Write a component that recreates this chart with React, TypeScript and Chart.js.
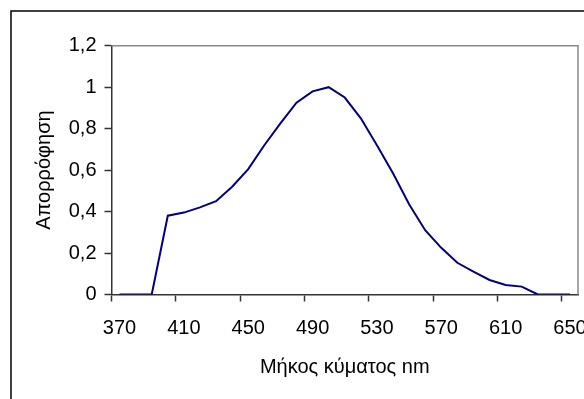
import React, { useEffect, useRef } from "react";
import { Chart, registerables } from "chart.js";

Chart.register(...registerables);

const wavelengths: number[] = [
  370, 380, 390, 400, 410, 420, 430, 440, 450, 460, 470, 480, 490, 500, 510,
  520, 530, 540, 550, 560, 570, 580, 590, 600, 610, 620, 630, 640, 650,
];
const absorbance: number[] = [
  0, 0, 0, 0.38, 0.395, 0.42, 0.45, 0.52, 0.605, 0.72, 0.825, 0.925, 0.98, 1.0,
  0.95, 0.85, 0.72, 0.585, 0.435, 0.31, 0.225, 0.153, 0.11, 0.07, 0.046, 0.038,
  0, 0, 0,
];
const xLabelStep = 4;
const yMin = 0;
const yMax = 1.2;
const yStep = 0.2;
const xTitle = "Μήκος κύματος nm";
const yTitle = "Απορρόφηση";

const FONT = "'Liberation Sans', Arial, sans-serif";
const FS = 20;

export default function App() {
  const ref = useRef<HTMLCanvasElement | null>(null);

  useEffect(() => {
    const canvas = ref.current;
    if (!canvas) return;

    const framePlugin = {
      id: "frame",
      beforeDraw(chart: any) {
        const { ctx } = chart;
        ctx.save();
        ctx.fillStyle = "#ffffff";
        ctx.fillRect(0, 0, chart.width, chart.height);
        ctx.strokeStyle = "#000000";
        ctx.lineWidth = 1.5;
        ctx.strokeRect(11, 11, chart.width + 20, chart.height + 20);
        ctx.restore();
      },
      beforeDatasetsDraw(chart: any) {
        const { ctx, chartArea: a } = chart;
        ctx.save();
        ctx.strokeStyle = "#8a8a8a";
        ctx.lineWidth = 1.5;
        ctx.beginPath();
        ctx.moveTo(a.left, a.top);
        ctx.lineTo(a.right, a.top);
        ctx.lineTo(a.right, a.bottom);
        ctx.stroke();
        ctx.restore();
      },
    };

    const chart = new Chart(canvas, {
      type: "line",
      data: {
        labels: wavelengths.map(String),
        datasets: [
          {
            data: absorbance,
            borderColor: "#000080",
            borderWidth: 2,
            pointRadius: 0,
            tension: 0,
            fill: false,
          },
        ],
      },
      options: {
        responsive: false,
        maintainAspectRatio: false,
        animation: false,
        devicePixelRatio: 1,
        layout: { padding: { left: 0, top: 45.7, right: 6, bottom: 0 } },
        plugins: {
          legend: { display: false },
          tooltip: { enabled: false },
          title: { display: false },
        },
        scales: {
          x: {
            type: "category",
            offset: true,
            grid: {
              offset: true,
              drawOnChartArea: false,
              drawTicks: true,
              tickLength: 7,
              tickWidth: 1.5,
              tickColor: (c: any) =>
                c.index % xLabelStep === 0 ? "#333333" : "rgba(0,0,0,0)",
            },
            border: { display: true, color: "#333333", width: 1.5 },
            ticks: {
              autoSkip: false,
              maxRotation: 0,
              minRotation: 0,
              padding: 15,
              color: "#000000",
              font: { family: FONT, size: FS },
              callback: (_v: any, i: number) =>
                i % xLabelStep === 0 ? String(wavelengths[i]) : "",
            },
            title: {
              display: true,
              text: xTitle,
              color: "#000000",
              font: { family: FONT, size: FS },
              padding: { top: 0, bottom: 20 },
            },
            afterFit: (s: any) => {
              s.height = 104.5;
              s.paddingLeft = 0;
              s.paddingRight = 0;
            },
          },
          y: {
            min: yMin,
            max: yMax,
            grid: {
              drawOnChartArea: false,
              drawTicks: true,
              tickLength: 7,
              tickWidth: 1.5,
              tickColor: "#333333",
            },
            border: { display: true, color: "#333333", width: 1.5 },
            ticks: {
              stepSize: yStep,
              padding: 8,
              color: "#000000",
              font: { family: FONT, size: FS },
              callback: (v: any) =>
                String(Number(Number(v).toFixed(1))).replace(".", ","),
            },
            title: {
              display: true,
              text: yTitle,
              color: "#000000",
              font: { family: FONT, size: FS },
              padding: { top: 32, bottom: 0 },
            },
            afterFit: (s: any) => {
              s.width = 111.5;
              s.paddingTop = 0;
              s.paddingBottom = 0;
            },
          },
        },
      },
      plugins: [framePlugin],
    });

    return () => chart.destroy();
  }, []);

  return (
    <div style={{ position: "absolute", left: 0, top: 0, width: 584, height: 399 }}>
      <canvas ref={ref} width={584} height={399} style={{ display: "block" }} />
    </div>
  );
}
